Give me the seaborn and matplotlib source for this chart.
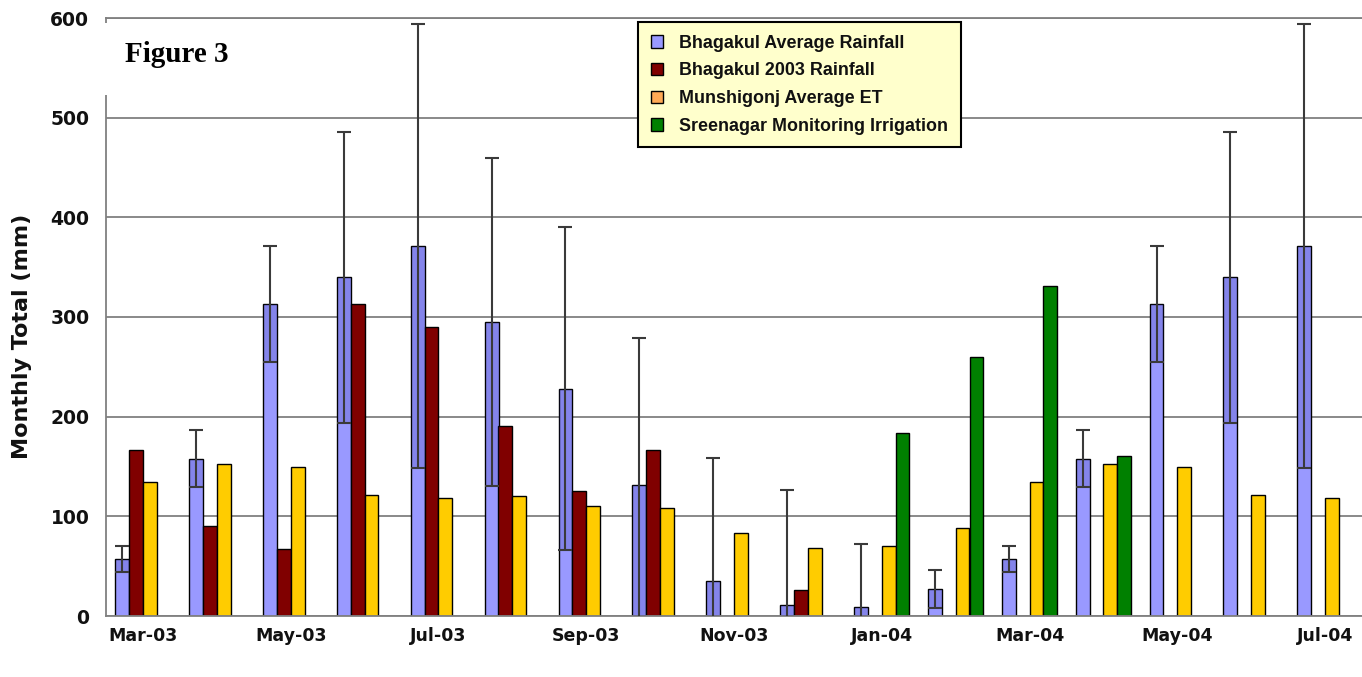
import numpy as np
import pandas as pd
import matplotlib
matplotlib.use("Agg")
import matplotlib.pyplot as plt
import seaborn as sns
from matplotlib.patches import Patch, Rectangle
from matplotlib.ticker import FixedLocator

nan = np.nan

months = ["Mar-03", "Apr-03", "May-03", "Jun-03", "Jul-03", "Aug-03", "Sep-03",
          "Oct-03", "Nov-03", "Dec-03", "Jan-04", "Feb-04", "Mar-04", "Apr-04",
          "May-04", "Jun-04", "Jul-04"]
series_names = ["Bhagakul Average Rainfall", "Bhagakul 2003 Rainfall",
                "Munshigonj Average ET", "Sreenagar Monitoring Irrigation"]

avg_rainfall = [57, 158, 313, 340, 371, 295, 228, 131, 35, 11, 9, 27,
                57, 158, 313, 340, 371]
avg_rainfall_sd = [13, 29, 58, 146, 223, 165, 162, 148, 124, 115, 63, 19,
                   13, 29, 58, 146, 223]
rainfall_2003 = [167, 90, 67, 313, 290, 191, 125, 167, nan, 26, nan, nan,
                 nan, nan, nan, nan, nan]
average_et = [134, 153, 150, 121, 118, 120, 110, 108, 83, 68, 70, 88,
              134, 153, 150, 121, 118]
irrigation = [nan, nan, nan, nan, nan, nan, nan, nan, nan, nan, 184, 260,
              331, 161, nan, nan, nan]

bar_colors = ["#9999FF", "#800000", "#FFCC00", "#008000"]
legend_colors = ["#9999FF", "#800000", "#FFAA55", "#008000"]

frames = []
for name, vals in zip(series_names, [avg_rainfall, rainfall_2003, average_et, irrigation]):
    frames.append(pd.DataFrame({"month": months, "series": name, "value": vals}))
df = pd.concat(frames, ignore_index=True).dropna()

sns.set_style("white")
plt.rcParams["font.family"] = ["DejaVu Sans"]

W, H = 1362, 677
fig = plt.figure(figsize=(W / 100, H / 100), dpi=100)
ax = fig.add_axes([106 / W, 61 / H, 1256 / W, 598 / H])

sns.barplot(data=df, x="month", y="value", hue="series", order=months,
            hue_order=series_names, palette=bar_colors, saturation=1,
            width=0.75, edgecolor="black", linewidth=1.0, errorbar=None,
            legend=False, ax=ax, zorder=2)

# error bars on the average rainfall bars
blue = ax.containers[0]
xc = [p.get_x() + p.get_width() / 2 for p in blue]
sd = np.array(avg_rainfall_sd, dtype=float)
ax.errorbar(xc, avg_rainfall, yerr=[sd, np.zeros_like(sd)], fmt="none",
            ecolor="#2a2a90", elinewidth=9, alpha=0.18, capsize=0, zorder=3)
ax.errorbar(xc, avg_rainfall, yerr=sd, fmt="none", ecolor="#3a3a3a",
            elinewidth=1.5, capsize=5, capthick=1.5, zorder=4)

ax.set_xlim(-0.5, len(months) - 0.5)
ax.set_ylim(0, 600)
ax.set_yticks(range(0, 601, 100))
ax.yaxis.grid(True, color="#808080", linewidth=1.3)
ax.set_axisbelow(True)

for side in ["left", "bottom", "top"]:
    ax.spines[side].set_color("#808080")
    ax.spines[side].set_linewidth(1.3)
ax.spines["right"].set_visible(False)

ax.set_xticks(range(len(months)))
ax.set_xticklabels([m if i % 2 == 0 else "" for i, m in enumerate(months)])
ax.xaxis.set_minor_locator(FixedLocator(np.arange(-0.5, len(months), 1.0)))
ax.tick_params(axis="x", which="major", length=0, pad=8,
               labelsize=12.5, labelcolor="#111111")
ax.tick_params(axis="x", which="minor", length=4, width=1.2,
               color="#808080", direction="out")
ax.tick_params(axis="y", length=7, width=1.2, color="#808080", pad=5,
               labelsize=13.5, labelcolor="#111111", direction="out")
for lab in ax.get_xticklabels() + ax.get_yticklabels():
    lab.set_fontweight("bold")
ax.set_xlabel("")
ax.set_ylabel("")

fig.text(22 / W, 1 - 336 / H, "Monthly Total (mm)", rotation=90,
         ha="center", va="center", fontsize=16, fontweight="bold",
         color="#111111")

# title panel in the top-left corner
fig.patches.append(Rectangle((102 / W, 1 - 95 / H), 228 / W, 72 / H,
                             transform=fig.transFigure, facecolor="white",
                             edgecolor="none", zorder=5))
fig.text(125 / W, 1 - 55 / H, "Figure 3", family="Liberation Serif",
         fontweight="bold", fontsize=21, ha="left", va="center",
         color="black", zorder=6)

handles = [Patch(facecolor=c, edgecolor="black", linewidth=1.0) for c in legend_colors]
leg = ax.legend(handles, series_names, loc="upper left",
                bbox_to_anchor=((638 - 106) / 1256, (616 - 22) / 598),
                frameon=True, fancybox=False, borderpad=0.7,
                handlelength=0.7, handleheight=0.7, handletextpad=0.9,
                labelspacing=0.6, borderaxespad=0,
                prop={"family": "Liberation Sans", "weight": "bold",
                      "size": 12.9})
leg.get_frame().set_facecolor("#FFFFCC")
leg.get_frame().set_edgecolor("black")
leg.get_frame().set_linewidth(1.5)
leg.get_frame().set_alpha(1)
for t in leg.get_texts():
    t.set_color("#111111")
leg.set_zorder(10)

fig.savefig("out.png", dpi=100, facecolor="white")
